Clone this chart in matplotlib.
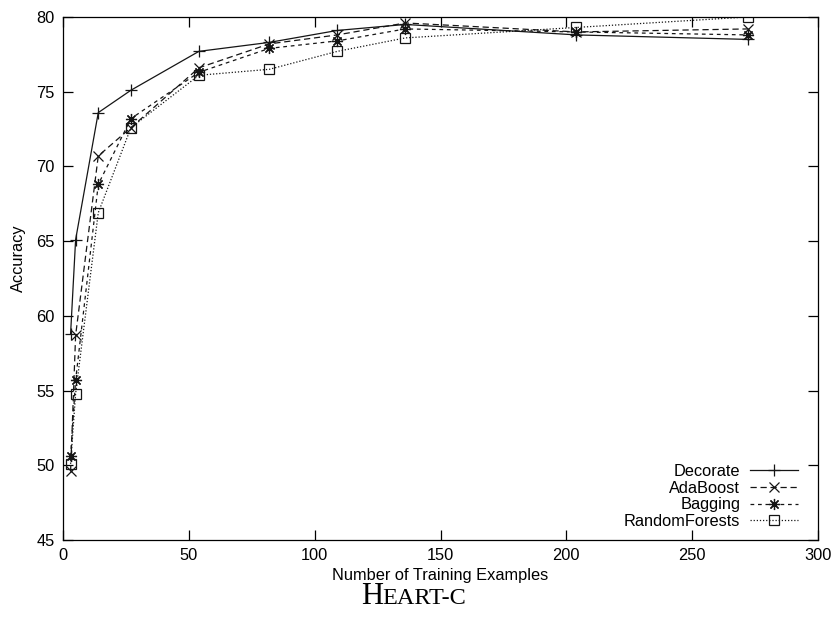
"""Learning curves for HEART-C: accuracy vs number of training examples."""
import matplotlib
matplotlib.use("Agg")
import matplotlib.pyplot as plt

n_train = [3, 5, 14, 27, 54, 82, 109, 136, 204, 272]
decorate = [58.8, 65.1, 73.6, 75.1, 77.7, 78.3, 79.1, 79.5, 78.8, 78.5]
adaboost = [49.6, 58.7, 70.7, 72.6, 76.6, 78.2, 78.8, 79.6, 79.0, 79.2]
bagging = [50.6, 55.7, 68.8, 73.2, 76.3, 77.9, 78.4, 79.2, 79.0, 78.8]
random_forests = [50.1, 54.8, 66.9, 72.6, 76.1, 76.5, 77.7, 78.6, 79.3, 80.0]

x_ticks = [0, 50, 100, 150, 200, 250, 300]
y_ticks = [45, 50, 55, 60, 65, 70, 75, 80]

fs = 11.8
plt.rcParams["font.family"] = ["Liberation Sans", "DejaVu Sans"]
plt.rcParams["font.size"] = fs

fig = plt.figure(figsize=(8.36, 6.22), dpi=100)
ax = fig.add_axes([0.0754, 0.1318, 0.9031, 0.8409])

ink = "#151515"
ax.plot(n_train, decorate, color=ink, linewidth=0.9, linestyle="-",
        marker="+", markersize=8, markeredgewidth=0.9, label="Decorate")
ax.plot(n_train, adaboost, color=ink, linewidth=0.9, linestyle=(0, (5, 3)),
        marker="x", markersize=6.5, markeredgewidth=0.9, label="AdaBoost")
ax.plot(n_train, bagging, color=ink, linewidth=0.9, linestyle=(0, (3, 3)),
        marker=(8, 2, 0), markersize=8, markeredgewidth=0.9, label="Bagging")
ax.plot(n_train, random_forests, color=ink, linewidth=0.9, linestyle=(0, (1, 1.5)),
        marker="s", markersize=7, markerfacecolor="none", markeredgewidth=0.9,
        label="RandomForests")

ax.set_xlim(0, 300)
ax.set_ylim(45, 80)
ax.set_xticks(x_ticks)
ax.set_yticks(y_ticks)
ax.tick_params(direction="in", length=7, width=0.9, top=True, right=True, labelsize=fs)
ax.tick_params(axis="x", pad=6)
ax.tick_params(axis="y", pad=6)
for spine in ax.spines.values():
    spine.set_linewidth(0.9)

ax.set_xlabel("Number of Training Examples", fontsize=fs, labelpad=3)
ax.set_ylabel("Accuracy", fontsize=fs)
ax.yaxis.set_label_coords(-0.049, 0.539)

leg = ax.legend(loc="lower right", bbox_to_anchor=(0.9735, 0.021), frameon=False,
                markerfirst=False, fontsize=fs, handlelength=2.93, handletextpad=0.6,
                labelspacing=0.1, borderaxespad=0, borderpad=0)
# gnuplot-style key: labels right-aligned against the samples
for col in leg._legend_handle_box.get_children():
    col.align = "right"

# small-caps style caption below the axis label
serif = ["Liberation Serif", "DejaVu Serif"]
t1 = fig.text(0, 0.029, "H", fontsize=22, family=serif, ha="left", va="baseline")
t2 = fig.text(0, 0.029, "EART-C", fontsize=17.5, family=serif, ha="left", va="baseline")
fig.canvas.draw()
r = fig.canvas.get_renderer()
w1 = t1.get_window_extent(r).width
w2 = t2.get_window_extent(r).width
cx = 413.5
x0 = (cx - (w1 + w2) / 2) / fig.bbox.width
t1.set_x(x0)
t2.set_x(x0 + w1 / fig.bbox.width)

fig.savefig("out.png", dpi=100)
